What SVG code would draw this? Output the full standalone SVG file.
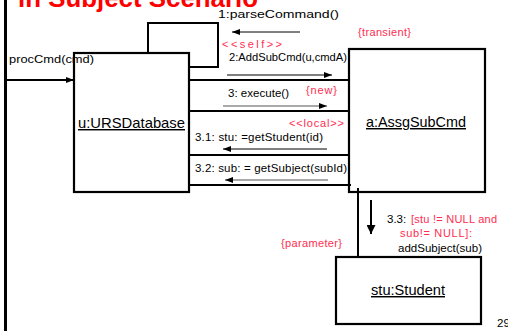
<svg xmlns="http://www.w3.org/2000/svg" width="508" height="331" viewBox="0 0 508 331">
  <style>
    .box { fill: none; stroke: #000000; stroke-width: 2.2; }
    .link { fill: none; stroke: #000000; stroke-width: 2; }
    .msg { fill: none; stroke: #000000; stroke-width: 1; }
    .msg-grey { fill: none; stroke: #8c8c8c; stroke-width: 1.5; }
    .lbl { font-family: "Liberation Sans", Arial, sans-serif; font-size: 11.5px; fill: #000000; }
    .note { font-family: "Liberation Sans", Arial, sans-serif; font-size: 11px; fill: #ff2d50; }
    .name { font-family: "Liberation Sans", Arial, sans-serif; font-size: 14.5px; fill: #000000; text-decoration: underline; }
    .title { font-family: "Liberation Sans", Arial, sans-serif; font-size: 26px; font-weight: bold; fill: #ff0000; }
  </style>
  <defs>
    <marker id="head" viewBox="0 0 8 6" refX="8" refY="3" markerWidth="8" markerHeight="6" markerUnits="userSpaceOnUse" orient="auto">
      <path d="M0,0 L8,3 L0,6 Z" fill="#000000"/>
    </marker>
    <marker id="head-big" viewBox="0 0 8 8" refX="8" refY="4" markerWidth="9" markerHeight="9" markerUnits="userSpaceOnUse" orient="auto">
      <path d="M0,0 L8,4 L0,8 Z" fill="#000000"/>
    </marker>
  </defs>

  <rect x="0" y="0" width="508" height="331" fill="#ffffff"/>

  <!-- slide frame and heading -->
  <line x1="5.5" y1="0" x2="5.5" y2="331" stroke="#000000" stroke-width="3"/>
  <text class="title" x="18" y="7" textLength="240" lengthAdjust="spacingAndGlyphs">in Subject Scenario</text>

  <!-- objects -->
  <g id="u-ursdatabase">
    <rect class="box" x="74" y="53" width="115" height="139"/>
    <text class="name" x="78" y="128" textLength="107" lengthAdjust="spacingAndGlyphs">u:URSDatabase</text>
  </g>

  <g id="a-assgsubcmd">
    <rect class="box" x="349" y="49" width="136" height="143"/>
    <text class="name" x="366" y="127" textLength="100" lengthAdjust="spacingAndGlyphs">a:AssgSubCmd</text>
  </g>

  <g id="stu-student">
    <rect class="box" x="336" y="257" width="145" height="67"/>
    <text class="name" x="371" y="295" textLength="74" lengthAdjust="spacingAndGlyphs">stu:Student</text>
  </g>

  <!-- links between objects -->
  <g id="connectors">
    <path class="link" d="M148,53 V23 H218 V67 H190"/>
    <line class="link" x1="189" y1="80" x2="349" y2="80"/>
    <line class="link" x1="189" y1="111" x2="349" y2="111"/>
    <line class="link" x1="189" y1="155" x2="349" y2="155"/>
    <line class="link" x1="189" y1="185" x2="351" y2="185"/>
    <line class="link" x1="358" y1="188" x2="358" y2="257"/>

    <!-- incoming call -->
    <line class="link" x1="6" y1="80" x2="74" y2="80" marker-end="url(#head)"/>
    <text class="lbl" x="9" y="63" font-size="13" textLength="85" lengthAdjust="spacingAndGlyphs">procCmd(cmd)</text>

    <!-- 1: self message -->
    <line class="msg" x1="300" y1="32" x2="232" y2="32" marker-end="url(#head)"/>
    <text class="lbl" x="218" y="18" font-size="14" textLength="121" lengthAdjust="spacingAndGlyphs">1:parseCommand()</text>
    <text class="note" x="222" y="48" font-size="13" textLength="60" lengthAdjust="spacing">&lt;&lt;self&gt;&gt;</text>

    <!-- 2 -->
    <text class="lbl" x="229" y="61" textLength="118" lengthAdjust="spacingAndGlyphs">2:AddSubCmd(u,cmdA)</text>
    <line class="msg" x1="227" y1="75" x2="332" y2="75" marker-end="url(#head)"/>
    <text class="note" x="358" y="36" textLength="53" lengthAdjust="spacing">{transient}</text>

    <!-- 3 -->
    <text class="lbl" x="228" y="97" textLength="61" lengthAdjust="spacing">3: execute()</text>
    <line class="msg-grey" x1="223" y1="106" x2="327" y2="106" marker-end="url(#head)"/>
    <text class="note" x="306" y="94" textLength="31" lengthAdjust="spacing">{new}</text>

    <!-- 3.1 -->
    <text class="note" x="289" y="127" textLength="55" lengthAdjust="spacing">&lt;&lt;local&gt;&gt;</text>
    <text class="lbl" x="195" y="141" textLength="128" lengthAdjust="spacing">3.1: stu: =getStudent(id)</text>
    <line class="msg" x1="327" y1="149" x2="223" y2="149" marker-end="url(#head)"/>

    <!-- 3.2 -->
    <text class="lbl" x="195" y="172" textLength="152" lengthAdjust="spacing">3.2: sub: = getSubject(subId)</text>
    <line class="msg-grey" x1="328" y1="180" x2="225" y2="180" marker-end="url(#head)"/>

    <!-- 3.3 -->
    <line class="link" x1="371" y1="200" x2="371" y2="234" marker-end="url(#head-big)"/>
    <text class="lbl" x="387" y="223" font-size="12">3.3:</text>
    <text class="note" x="411" y="223" font-size="12" textLength="86" lengthAdjust="spacing">[stu != NULL and</text>
    <text class="note" x="400" y="237" font-size="12" textLength="72" lengthAdjust="spacing">sub!=  NULL]:</text>
    <text class="lbl" x="398" y="252" textLength="84" lengthAdjust="spacing">addSubject(sub)</text>
    <text class="note" x="281" y="247" textLength="61" lengthAdjust="spacing">{parameter}</text>
  </g>

  <!-- page number -->
  <text class="lbl" x="497" y="327" font-size="9">29</text>
</svg>
